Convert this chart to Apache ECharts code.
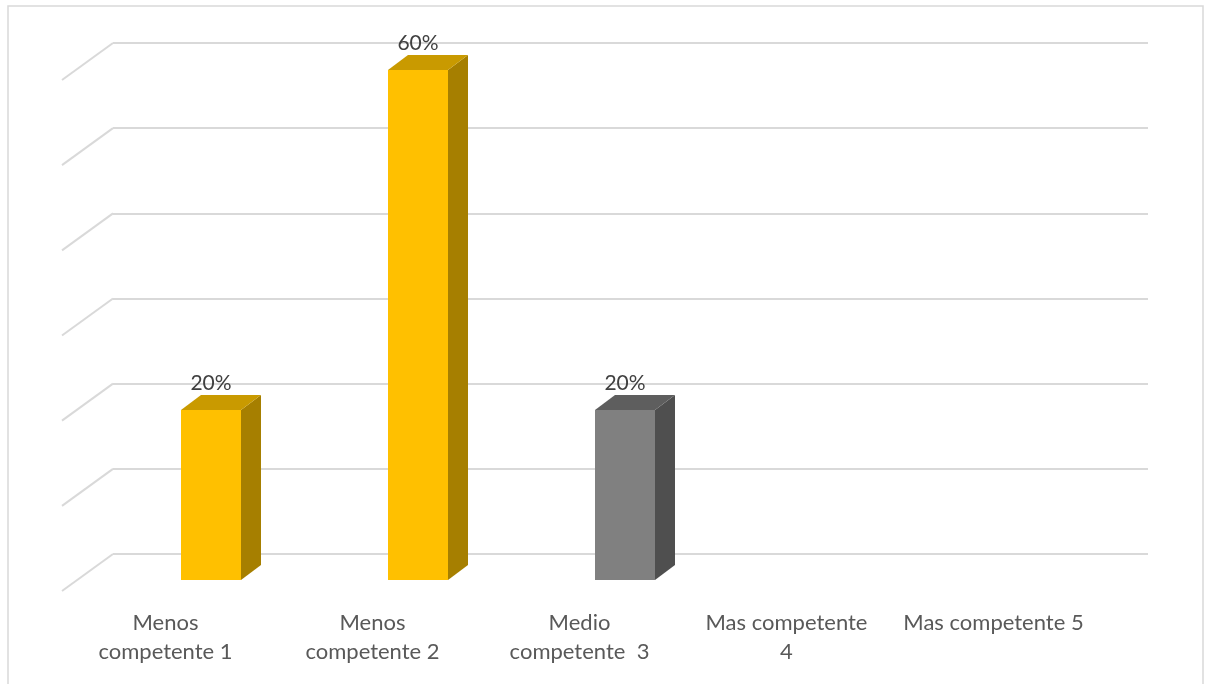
<!DOCTYPE html>
<html>
<head>
<meta charset="utf-8">
<script src="https://cdn.jsdelivr.net/npm/echarts@6/dist/echarts.min.js"></script>
<style>
  html, body { margin: 0; padding: 0; background: #ffffff; }
  #chart { width: 1207px; height: 684px; }
</style>
</head>
<body>
<div id="chart"></div>
<script>
// Categories and shares (null = no bar drawn)
const categories = ['Menos\ncompetente 1', 'Menos\ncompetente 2', 'Medio\ncompetente  3', 'Mas competente\n4', 'Mas competente 5'];
const shares = [0.2, 0.6, 0.2, null, null];
const barPalette = ['gold', 'gold', 'grey', 'gold', 'gold'];
const wallTicks = [0, 0.1, 0.2, 0.3, 0.4, 0.5, 0.6];

const faces = {
  gold: { front: '#FFC000', top: '#C99A00', side: '#A67F00' },
  grey: { front: '#808080', top: '#5E5E5E', side: '#4F4F4F' }
};

// perspective offsets
const WALL_DEPTH = [-51, 37];   // back wall -> front floor edge
const BAR_DEPTH = [20, -15];    // front face -> back face of a bar
const BAR_W = 60;
const FONT = 'Lato, "Open Sans", sans-serif';

const chart = echarts.init(document.getElementById('chart'));

const option = {
  animation: false,
  backgroundColor: '#ffffff',
  graphic: [{
    type: 'rect',
    shape: { x: 8, y: 6, width: 1195, height: 720 },
    style: { fill: 'none', stroke: '#d9d9d9', lineWidth: 1.5 },
    silent: true
  }],
  grid: [
    // back wall
    { left: 113, top: 43, width: 1035, height: 511 },
    // front floor edge (category labels)
    { left: 62, top: 80, width: 1035, height: 511 },
    // bar fronts
    { left: 107.5, top: 70, width: 1035, height: 510 }
  ],
  xAxis: [
    { gridIndex: 0, type: 'category', data: categories, show: false },
    {
      gridIndex: 1, type: 'category', data: categories,
      axisLine: { show: false }, axisTick: { show: false },
      axisLabel: {
        margin: 17, color: '#595959', fontSize: 22, fontFamily: FONT,
        lineHeight: 29, interval: 0
      }
    },
    { gridIndex: 2, type: 'category', data: categories, show: false }
  ],
  yAxis: [
    {
      gridIndex: 0, type: 'value', min: 0, max: 0.6, interval: 0.1,
      axisLabel: { show: false }, axisLine: { show: false }, axisTick: { show: false },
      splitLine: { lineStyle: { color: '#d9d9d9', width: 2 } }
    },
    { gridIndex: 1, type: 'value', min: 0, max: 0.6, show: false, splitLine: { show: false } },
    { gridIndex: 2, type: 'value', min: 0, max: 0.6, show: false, splitLine: { show: false } }
  ],
  series: [
    {
      // side-wall gridlines running from the back wall toward the viewer
      type: 'custom',
      xAxisIndex: 0, yAxisIndex: 0,
      data: wallTicks.map(v => [0, v]),
      silent: true,
      renderItem: function (params, api) {
        const cs = params.coordSys;
        const y = api.coord([0, api.value(1)])[1];
        return {
          type: 'line',
          shape: { x1: cs.x, y1: y, x2: cs.x + WALL_DEPTH[0], y2: y + WALL_DEPTH[1] },
          style: { stroke: '#d9d9d9', lineWidth: 2 }
        };
      }
    },
    {
      // 3D bars
      type: 'custom',
      xAxisIndex: 2, yAxisIndex: 2,
      data: shares.map((v, i) => [i, v]),
      renderItem: function (params, api) {
        const v = api.value(1);
        if (v === null || v === undefined || isNaN(v)) return null;
        const i = api.value(0);
        const top = api.coord([i, v]);
        const base = api.coord([i, 0]);
        const c = faces[barPalette[i]];
        const x0 = top[0] - BAR_W / 2, x1 = top[0] + BAR_W / 2;
        const yT = top[1], yB = base[1];
        const dx = BAR_DEPTH[0], dy = BAR_DEPTH[1];
        return {
          type: 'group',
          children: [
            {
              type: 'polygon',
              shape: { points: [[x1, yT], [x1 + dx, yT + dy], [x1 + dx, yB + dy], [x1, yB]] },
              style: { fill: c.side }
            },
            {
              type: 'polygon',
              shape: { points: [[x0, yT], [x0 + dx, yT + dy], [x1 + dx, yT + dy], [x1, yT]] },
              style: { fill: c.top }
            },
            {
              type: 'rect',
              shape: { x: x0, y: yT, width: BAR_W, height: yB - yT },
              style: { fill: c.front }
            },
            {
              type: 'text',
              x: top[0], y: yT + dy - 1,
              style: {
                text: Math.round(v * 100) + '%',
                fill: '#404040', fontSize: 21, fontFamily: FONT,
                align: 'center', verticalAlign: 'bottom'
              }
            }
          ]
        };
      }
    }
  ]
};

chart.setOption(option);
</script>
</body>
</html>
